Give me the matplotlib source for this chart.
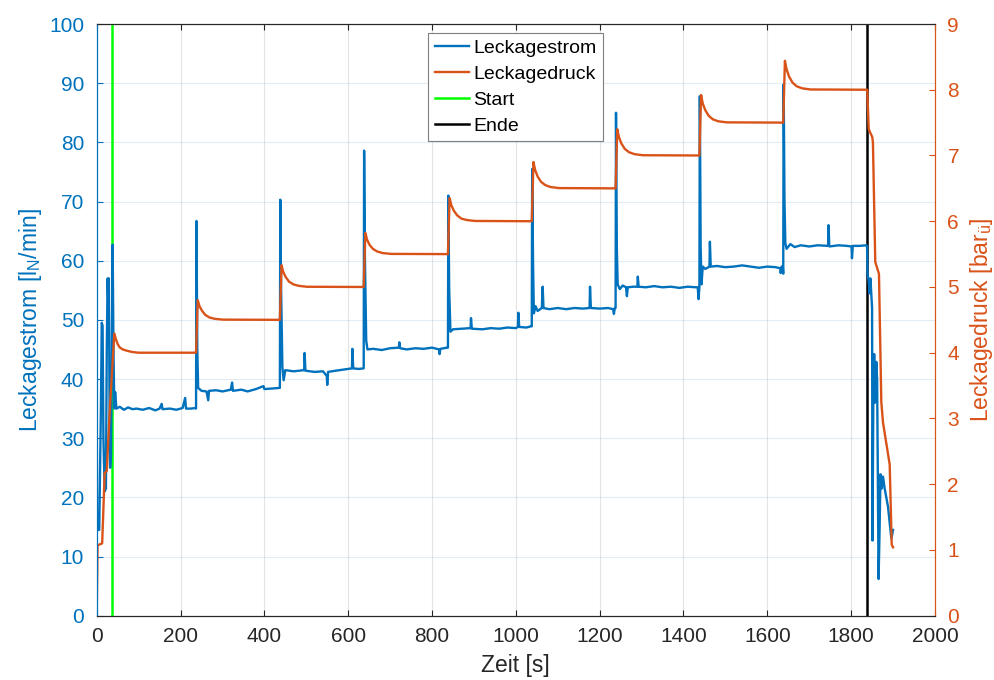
import numpy as np
import matplotlib.pyplot as plt

plt.rcParams['font.family'] = ['Liberation Sans', 'DejaVu Sans']
plt.rcParams['mathtext.fontset'] = 'custom'
plt.rcParams['mathtext.rm'] = 'Liberation Sans'

# ------------ Data ------------ #

# Leckagestrom [l_N/min]
t_flow = [0, 1, 6, 8, 10, 12, 14, 16, 19, 22, 24, 26, 28, 29, 31, 32, 34, 38, 40, 42, 44, 47,
          55, 65, 75, 85, 95, 110, 125, 140, 150, 155, 157, 175, 190, 205, 211, 213, 225, 236,
          237, 238, 240, 242, 250, 262, 266, 268, 285, 300, 320, 323, 325, 345, 360, 380, 398, 400, 420, 436,
          437, 438, 440, 443, 446, 450, 470, 495, 496, 498, 520, 540, 549, 550, 552, 570, 590, 609, 610, 612, 625, 636,
          637, 638, 640, 643, 646, 660, 680, 700, 721, 722, 724, 740, 760, 780, 800, 817, 818, 820, 836,
          838, 839, 841, 844, 850, 870, 892, 893, 895, 920, 940, 960, 980, 1000, 1005, 1006, 1008, 1025, 1036,
          1038, 1039, 1041, 1043, 1047, 1052, 1062, 1064, 1066, 1080, 1100, 1120, 1140, 1160, 1176, 1177, 1179,
          1200, 1220, 1232, 1234, 1236,
          1238, 1239, 1241, 1243, 1248, 1255, 1263, 1265, 1267, 1280, 1290, 1291, 1293, 1310, 1330, 1350, 1370,
          1390, 1410, 1430, 1434, 1436,
          1438, 1439, 1441, 1443, 1446, 1452, 1462, 1463, 1465, 1480, 1500, 1520, 1540, 1560, 1580, 1600, 1620,
          1631, 1632, 1634, 1637,
          1638, 1639, 1641, 1643, 1646, 1655, 1665, 1680, 1700, 1720, 1745, 1746, 1748, 1770, 1790, 1801, 1802,
          1804, 1820, 1836,
          1838, 1839, 1842, 1844, 1846, 1848, 1850, 1851, 1853, 1855, 1857, 1860, 1862, 1865.5, 1868, 1870,
          1873, 1876, 1880, 1884, 1888, 1890, 1893, 1896, 1900]
flow = [34.7, 14.5, 14.5, 25, 35, 49.5, 49, 30, 21, 21.5, 45, 57, 52, 57, 30, 25, 27, 62.7, 45, 35, 37.8, 35,
        35.3, 34.8, 35.2, 34.9, 35.0, 34.8, 35.1, 34.7, 35.0, 35.8, 34.9, 35.0, 34.8, 35.1, 36.8, 35.0, 35.0, 35.1,
        35.0, 66.7, 45, 38.5, 38.0, 37.9, 36.4, 38.0, 38.1, 37.9, 38.2, 39.4, 38.0, 38.2, 37.9, 38.3, 38.8, 38.3, 38.4, 38.5,
        38.5, 70.3, 55, 42, 39.8, 41.5, 41.3, 41.5, 44.4, 41.4, 41.2, 41.3, 40.5, 39.0, 41.2, 41.4, 41.6, 41.8, 45.1, 41.8, 41.7, 41.8,
        41.8, 78.6, 60, 46.5, 45.0, 45.1, 44.9, 45.2, 45.3, 46.2, 45.2, 45.0, 45.2, 45.1, 45.3, 45.0, 44.2, 45.1, 45.3,
        45.3, 71.0, 55, 48.0, 48.4, 48.5, 48.6, 50.3, 48.5, 48.4, 48.6, 48.5, 48.7, 48.6, 48.8, 51.2, 48.8, 48.7, 48.9,
        48.9, 75.5, 60, 51.1, 52.3, 51.5, 52.0, 55.6, 52.0, 51.8, 52.0, 51.8, 52.0, 51.9, 52.0, 55.6, 52.0,
        51.9, 52.0, 51.8, 51.0, 52.0,
        52.0, 85.0, 62, 56.0, 55.2, 55.8, 55.5, 54.0, 55.5, 55.6, 55.6, 57.3, 55.6, 55.5, 55.7, 55.5, 55.6,
        55.4, 55.6, 55.5, 55.5, 53.5,
        55.6, 87.8, 62, 56.0, 59.0, 58.6, 59.0, 63.2, 59.0, 59.1, 58.9, 59.0, 59.2, 59.0, 58.8, 59.0, 58.9,
        58.7, 57.9, 59.0, 59.0,
        57.8, 89.8, 70, 63.0, 62.0, 62.8, 62.3, 62.6, 62.4, 62.6, 62.5, 66.0, 62.4, 62.6, 62.5, 62.4, 60.4,
        62.5, 62.5, 62.6,
        62.5, 57.8, 56.5, 54.5, 57.0, 54.4, 52.0, 12.7, 38.0, 44.2, 36.0, 42.9, 40.0, 6.2, 15.0, 23.9,
        21.5, 23.5, 21.5, 20.0, 18.4, 17.0, 15.0, 13.0, 14.5]

# Leckagedruck [bar_ü]
t_press = [0, 2, 13, 19, 24, 32, 42, 46, 50, 55, 62, 72, 85, 100, 236,
           237, 241, 245, 251, 259, 269, 282, 302, 436,
           437, 441, 445, 451, 459, 469, 482, 502, 636,
           637, 641, 645, 651, 659, 669, 682, 702, 837,
           838, 842, 846, 852, 860, 870, 883, 903, 1037,
           1038, 1042, 1046, 1052, 1060, 1070, 1083, 1103, 1237,
           1238, 1242, 1246, 1252, 1260, 1270, 1283, 1303, 1437,
           1438, 1442, 1446, 1452, 1460, 1470, 1483, 1503, 1637,
           1638, 1642, 1646, 1652, 1660, 1670, 1683, 1703, 1837,
           1838.4, 1842, 1850.4, 1852, 1857.6, 1866.4, 1872, 1876, 1892, 1896.8, 1900]
press = [0, 1.07, 1.1, 2.17, 2.2, 3.23, 4.29, 4.2, 4.13, 4.08, 4.05, 4.03, 4.01, 4.0, 4.0,
         4.0, 4.80, 4.71, 4.64, 4.575, 4.536, 4.515, 4.503, 4.5,
         4.5, 5.33, 5.23, 5.15, 5.08, 5.04, 5.017, 5.003, 5.0,
         5.0, 5.82, 5.72, 5.64, 5.58, 5.54, 5.516, 5.503, 5.5,
         5.5, 6.35, 6.245, 6.16, 6.09, 6.04, 6.018, 6.004, 6.0,
         6.0, 6.90, 6.78, 6.68, 6.60, 6.55, 6.52, 6.504, 6.5,
         6.5, 7.40, 7.28, 7.18, 7.10, 7.05, 7.02, 7.004, 7.0,
         7.0, 7.92, 7.79, 7.69, 7.605, 7.55, 7.52, 7.504, 7.5,
         7.5, 8.44, 8.31, 8.20, 8.11, 8.053, 8.022, 8.004, 8.0,
         8.0, 7.4, 7.28, 7.2, 5.38, 5.2, 3.25, 2.94, 2.3, 1.08, 1.04]

t_start = 36
t_end = 1838

# ------------ Plot ------------ #

c_left = '#0072BD'
c_right = '#D95319'
c_axis = '#262626'

fig = plt.figure(figsize=(9.94, 6.80), dpi=100)
ax = fig.add_axes([0.0973, 0.0946, 0.8433, 0.8701])
ax2 = ax.twinx()

l3 = ax.axvline(t_start, color='#00FF00', lw=1.8, zorder=2)
l4 = ax.axvline(t_end, color='black', lw=1.8, zorder=2)
l1, = ax.plot(t_flow, flow, color=c_left, lw=1.7, zorder=3)
l2, = ax2.plot(t_press, press, color=c_right, lw=1.7)

ax.set_xlim(0, 2000)
ax.set_ylim(0, 100)
ax2.set_ylim(0, 9)
ax.set_xticks(np.arange(0, 2001, 200))
ax.set_yticks(np.arange(0, 101, 10))
ax2.set_yticks(np.arange(0, 10, 1))

ax.grid(True, axis='x', color=c_axis, alpha=0.12, lw=0.8)
ax.grid(True, axis='y', color=c_left, alpha=0.12, lw=0.8)
ax.set_axisbelow(True)

ax.tick_params(axis='x', direction='in', top=True, length=4, colors=c_axis, labelsize=15, pad=8)
ax.tick_params(axis='y', direction='in', length=4, colors=c_left, labelsize=15, pad=9)
ax2.tick_params(axis='y', direction='in', length=4, colors=c_right, labelsize=15, pad=9)

for a in (ax, ax2):
    a.spines['top'].set_color(c_axis)
    a.spines['bottom'].set_color(c_axis)
    a.spines['left'].set_color(c_left)
    a.spines['right'].set_color(c_right)
    for s in a.spines.values():
        s.set_linewidth(0.8)

ax.set_xlabel('Zeit [s]', fontsize=16.5, color=c_axis, labelpad=6)
ax.set_ylabel(r'Leckagestrom [l$_\mathregular{N}$/min]', fontsize=16.5, color=c_left, labelpad=4)
ax2.set_ylabel(r'Leckagedruck [bar$_\mathregular{ü}$]', fontsize=16.5, color=c_right, labelpad=6)

leg = ax2.legend([l1, l2, l3, l4], ['Leckagestrom', 'Leckagedruck', 'Start', 'Ende'],
                 loc='upper center', fontsize=14, handlelength=1.75, handletextpad=0.2,
                 labelspacing=0.42, borderpad=0.35, borderaxespad=0.45, fancybox=False,
                 framealpha=1, edgecolor='#7f7f7f')
leg.get_frame().set_linewidth(0.8)

fig.savefig('out.png', dpi=100)
